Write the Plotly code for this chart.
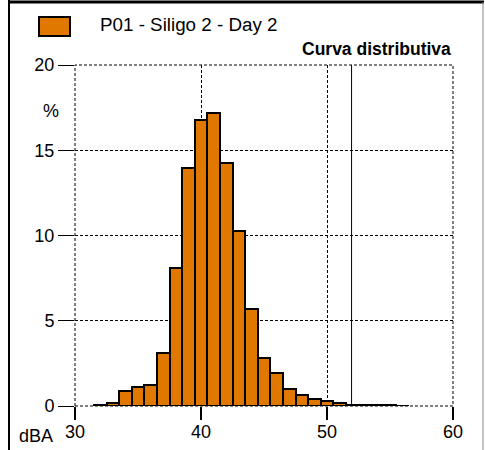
import plotly.graph_objects as go

# ---- data ----
levels_dba = [32, 33, 34, 35, 36, 37, 38, 39, 40, 41, 42, 43, 44, 45, 46, 47, 48,
              49, 50, 51, 52, 53, 54, 55, 56]
percent = [0.04, 0.20, 0.88, 1.10, 1.24, 3.12, 8.09, 13.95, 16.78, 17.19, 14.28,
           10.29, 5.70, 2.82, 1.95, 1.00, 0.67, 0.41, 0.27, 0.18, 0.08, 0.05,
           0.04, 0.03, 0.02]
marker_level = [51.95]
x_ticks = [30, 40, 50, 60]
y_ticks = [0, 5, 10, 15, 20]
series_name = "P01 - Siligo 2 - Day 2"
title_text = "Curva distributiva"

FONT = "Liberation Sans, Arial, Helvetica, sans-serif"
ORANGE = "#E07800"
DASH = "3px,2px"

W, H = 485, 450
ML, MR, MT, MB = 75, 32, 65, 44
PW, PH = W - ML - MR, H - MT - MB


def px(x):
    return (x - ML) / PW


def py(y):
    return (H - MB - y) / PH


fig = go.Figure()
fig.add_trace(go.Bar(
    x=levels_dba, y=percent, width=1.0, name=series_name,
    marker=dict(color=ORANGE, line=dict(color="black", width=2)),
    showlegend=False,
))
fig.add_trace(go.Scatter(
    x=marker_level * 2, y=[y_ticks[0], y_ticks[-1]], mode="lines",
    line=dict(color="black", width=1), showlegend=False, hoverinfo="skip",
))

shapes = [
    # dashed plot frame
    dict(type="rect", xref="paper", yref="paper", x0=0, x1=1, y0=0, y1=1,
         line=dict(color="black", width=1, dash=DASH), layer="below"),
    # outer border: left, top, right
    dict(type="rect", xref="paper", yref="paper", x0=px(8), x1=px(10), y0=py(452), y1=py(0),
         fillcolor="black", line=dict(width=0)),
    dict(type="line", xref="paper", yref="paper", x0=px(8), x1=px(484), y0=py(2), y1=py(2),
         line=dict(color="black", width=3)),
    dict(type="line", xref="paper", yref="paper", x0=px(483), x1=px(483), y0=py(2), y1=py(452),
         line=dict(color="#888888", width=1)),
    # legend swatch
    dict(type="rect", xref="paper", yref="paper", x0=px(39), x1=px(70), y0=py(36), y1=py(17),
         fillcolor=ORANGE, line=dict(color="black", width=2)),
]

annotations = [
    dict(text=series_name, xref="paper", yref="paper", x=px(98), y=py(24),
         xanchor="left", yanchor="middle", showarrow=False,
         font=dict(family=FONT, size=18.8, color="black")),
    dict(text="<b>" + title_text + "</b>", xref="paper", yref="paper", x=px(453), y=py(49),
         xanchor="right", yanchor="middle", showarrow=False,
         font=dict(family=FONT, size=17.5, color="black")),
    dict(text="%", xref="paper", yref="paper", x=px(51), y=py(111),
         xanchor="center", yanchor="middle", showarrow=False,
         font=dict(family=FONT, size=18, color="black")),
    dict(text="dBA", xref="paper", yref="paper", x=px(36), y=py(436),
         xanchor="center", yanchor="middle", showarrow=False,
         font=dict(family=FONT, size=18, color="black")),
]
# x tick labels placed as annotations on the data axis
for v in x_ticks:
    annotations.append(dict(
        text=str(v), xref="x", yref="paper", x=v, y=py(432),
        xanchor="center", yanchor="middle", showarrow=False,
        font=dict(family=FONT, size=18, color="black"),
    ))

fig.update_layout(
    width=W, height=H,
    margin=dict(l=ML, r=MR, t=MT, b=MB, pad=0, autoexpand=False),
    paper_bgcolor="white", plot_bgcolor="white",
    bargap=0,
    shapes=shapes, annotations=annotations,
    font=dict(family=FONT, size=18, color="black"),
)
fig.update_xaxes(
    range=[30, 60], tickvals=x_ticks, showticklabels=False,
    showgrid=True, gridcolor="black", griddash=DASH, gridwidth=1,
    ticks="outside", ticklen=13, tickwidth=2, tickcolor="black",
    automargin=False,
    zeroline=False, showline=False,
)
fig.update_yaxes(
    range=[0, 20], tickvals=y_ticks, ticktext=[str(v) for v in y_ticks],
    showgrid=True, gridcolor="black", griddash=DASH, gridwidth=1,
    ticks="outside", ticklen=16, tickwidth=1, tickcolor="black",
    automargin=False,
    zeroline=False, showline=False,
    tickfont=dict(family=FONT, size=18, color="black"),
)

fig.write_html(
    "out.html",
    config={"displayModeBar": False},
    post_script=(
        "document.documentElement.style.margin='0';"
        "document.body.style.margin='0';document.body.style.padding='0';"
        "document.body.style.overflow='hidden';window.scrollTo(0,0);"
    ),
)
